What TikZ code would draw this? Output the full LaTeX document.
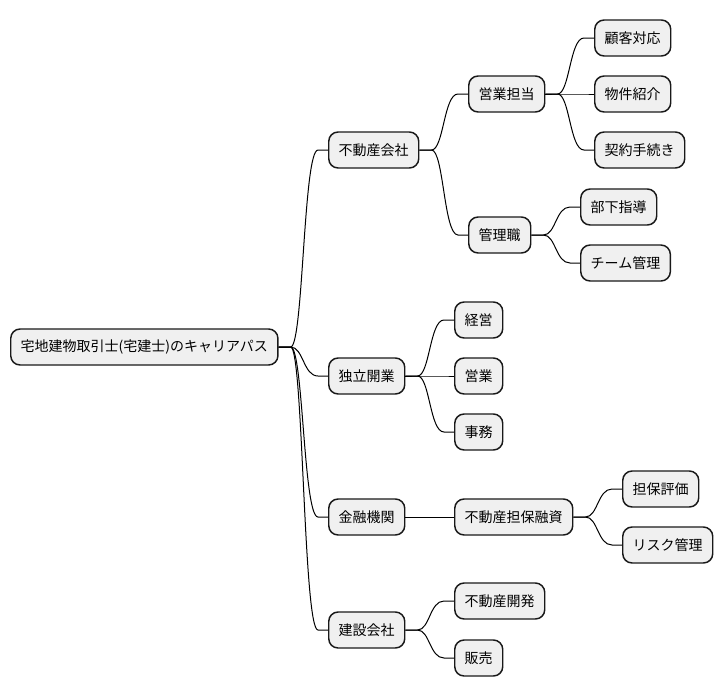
\documentclass[tikz,border=0pt]{standalone}
\usepackage{fontspec}
\setmainfont{Noto Sans CJK JP}
\usepackage{tikz}
\usetikzlibrary{positioning,calc}

\begin{document}
\begin{tikzpicture}[x=0.75pt,y=-0.75pt,
    topic/.style={rectangle,draw=black!90,fill=black!6,line width=1.1pt,
                  rounded corners=7pt,minimum height=27pt,inner xsep=7.5pt,
                  anchor=west,font=\fontsize{10.5pt}{12pt}\selectfont},
    branch/.style={draw,line width=0.75pt,
                  to path={let \p1=(\tikztostart),\p2=(\tikztotarget) in
                  -- (\x1+9pt,\y1) .. controls ({(\x1+\x2)/2},\y1) and ({(\x1+\x2)/2},\y2)
                  .. (\x2-7.5pt,\y2) -- (\p2)}}]
    \useasboundingbox (0,0) rectangle (723,696);
    \node[topic](root) at (10,347){宅地建物取引士(宅建士)のキャリアパス};
    \node[topic](fudosan) at (328,150){不動産会社};
    \node[topic](eigyo) at (468,94){営業担当};
    \node[topic](kokyaku) at (594,38){顧客対応};
    \node[topic](bukken) at (594,94){物件紹介};
    \node[topic](keiyaku) at (594,150){契約手続き};
    \node[topic](kanri) at (468,235){管理職};
    \node[topic](buka) at (580,207){部下指導};
    \node[topic](team) at (580,263){チーム管理};
    \node[topic](dokuritsu) at (328,376){独立開業};
    \node[topic](keiei) at (454,320){経営};
    \node[topic](eigyob) at (454,376){営業};
    \node[topic](jimu) at (454,432){事務};
    \node[topic](kinyu) at (328,517){金融機関};
    \node[topic](tanpo) at (454,517){不動産担保融資};
    \node[topic](hyoka) at (622,489){担保評価};
    \node[topic](risk) at (622,545){リスク管理};
    \node[topic](kensetsu) at (328,630){建設会社};
    \node[topic](kaihatsu) at (454,601){不動産開発};
    \node[topic](hanbai) at (454,658){販売};
    \draw[branch](root.east) to (fudosan.west);
    \draw[branch](root.east) to (dokuritsu.west);
    \draw[branch](root.east) to (kinyu.west);
    \draw[branch](root.east) to (kensetsu.west);
    \draw[branch](fudosan.east) to (eigyo.west);
    \draw[branch](fudosan.east) to (kanri.west);
    \draw[branch](eigyo.east) to (kokyaku.west);
    \draw[branch](eigyo.east) to (bukken.west);
    \draw[branch](eigyo.east) to (keiyaku.west);
    \draw[branch](kanri.east) to (buka.west);
    \draw[branch](kanri.east) to (team.west);
    \draw[branch](dokuritsu.east) to (keiei.west);
    \draw[branch](dokuritsu.east) to (eigyob.west);
    \draw[branch](dokuritsu.east) to (jimu.west);
    \draw[branch](kinyu.east) to (tanpo.west);
    \draw[branch](tanpo.east) to (hyoka.west);
    \draw[branch](tanpo.east) to (risk.west);
    \draw[branch](kensetsu.east) to (kaihatsu.west);
    \draw[branch](kensetsu.east) to (hanbai.west);
\end{tikzpicture}
\end{document}
